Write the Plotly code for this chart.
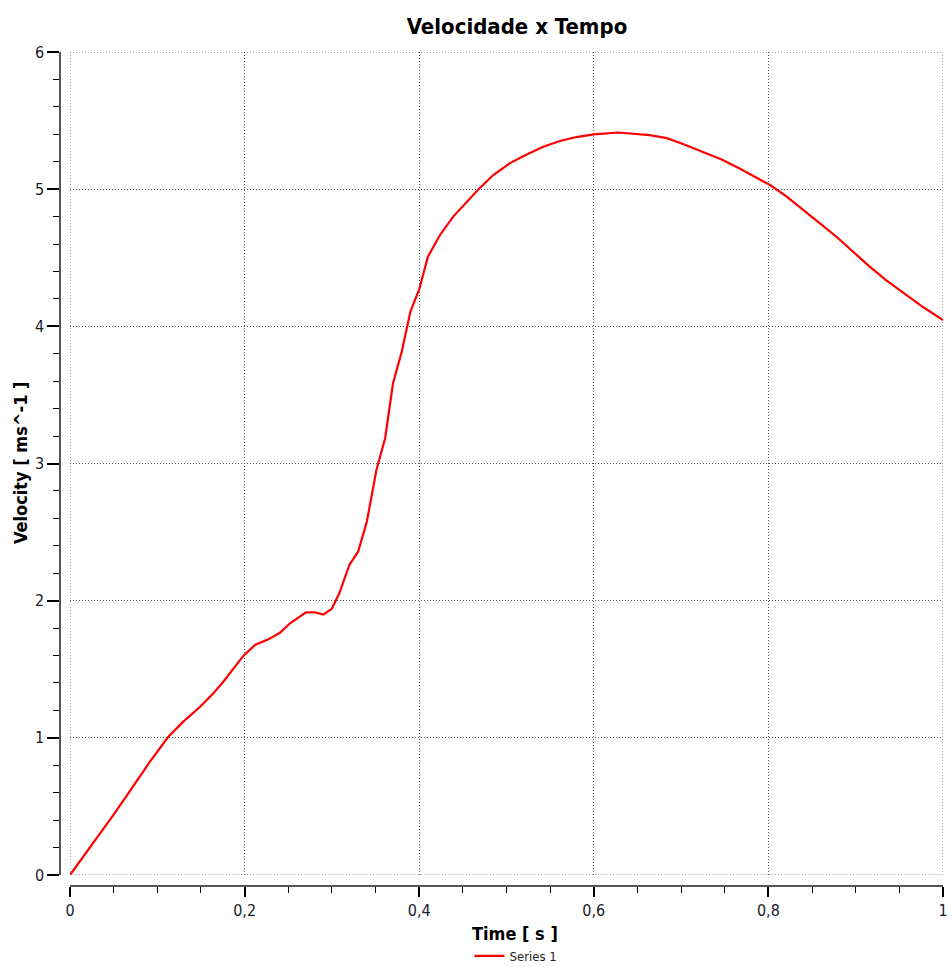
import plotly.graph_objects as go

time_s = [0, 0.0267, 0.0496, 0.0707, 0.0916, 0.1126, 0.1298, 0.149, 0.1642, 0.1756,
          0.1985, 0.2119, 0.2272, 0.2405, 0.252, 0.2703, 0.2806, 0.2901, 0.2997, 0.3085,
          0.32, 0.33, 0.34, 0.351, 0.361, 0.37, 0.38, 0.39, 0.40, 0.41,
          0.4238, 0.439, 0.4544, 0.468, 0.4849, 0.504, 0.5231, 0.542, 0.5613, 0.58,
          0.60, 0.628, 0.664, 0.6835, 0.7007, 0.7255, 0.7465, 0.767, 0.7847, 0.802,
          0.821, 0.84, 0.859, 0.878, 0.897, 0.916, 0.9355, 0.955, 0.9775, 1.0]
velocity = [0, 0.231, 0.437, 0.632, 0.826, 1.008, 1.118, 1.227, 1.325, 1.409,
            1.597, 1.677, 1.718, 1.766, 1.835, 1.915, 1.915, 1.898, 1.939, 2.054,
            2.26, 2.357, 2.575, 2.953, 3.184, 3.585, 3.815, 4.11, 4.27, 4.508,
            4.666, 4.80, 4.909, 5.0, 5.103, 5.19, 5.253, 5.31, 5.351, 5.38,
            5.40, 5.413, 5.394, 5.372, 5.333, 5.27, 5.216, 5.15, 5.091, 5.03,
            4.945, 4.85, 4.75, 4.653, 4.544, 4.435, 4.333, 4.24, 4.139, 4.046]

x_ticks = [0, 0.2, 0.4, 0.6, 0.8, 1]
y_ticks = [0, 1, 2, 3, 4, 5, 6]

FONT = "DejaVu Sans Condensed, DejaVu Sans, sans-serif"
GRID = "#555"
GRID_DASH = "1px,2px"

fig = go.Figure()
fig.add_trace(go.Scatter(x=time_s, y=velocity, mode="lines", name="Series 1",
                         line=dict(color="#ff0000", width=2.2)))

W, H = 952, 967
ml, mr, mt, mb = 60, 9, 52, 81
pw, ph = W - ml - mr, H - mt - mb

# edge grid lines (plotly omits grid lines at the range limits)
shapes = [
    dict(type="line", xref="x", yref="y", x0=0, x1=1, y0=y_ticks[-1], y1=y_ticks[-1],
         line=dict(color=GRID, width=1, dash=GRID_DASH), layer="below"),
    dict(type="line", xref="x", yref="y", x0=x_ticks[-1], x1=x_ticks[-1], y0=0, y1=6,
         line=dict(color=GRID, width=1, dash=GRID_DASH), layer="below"),
    dict(type="line", xref="x", yref="y", x0=0, x1=1, y0=0, y1=0,
         line=dict(color=GRID, width=1, dash=GRID_DASH), layer="below"),
    dict(type="line", xref="x", yref="y", x0=0, x1=0, y0=0, y1=6,
         line=dict(color=GRID, width=1, dash=GRID_DASH), layer="below"),
]

fig.update_layout(
    width=W, height=H,
    margin=dict(l=ml, r=mr, t=mt, b=mb, pad=0, autoexpand=False),
    paper_bgcolor="white", plot_bgcolor="white",
    separators=", ",
    font=dict(family=FONT, size=16, color="#1a1a2a"),
    title=dict(text="<b>Velocidade x Tempo</b>", x=517 / W, xref="container",
               xanchor="center", y=1 - 26 / H, yref="container", yanchor="middle",
               font=dict(family=FONT, size=22, color="black")),
    showlegend=True,
    legend=dict(orientation="h", x=(516 - ml) / pw, xanchor="center",
                y=-(956 - (H - mb)) / ph, yanchor="middle",
                font=dict(family=FONT, size=13, color="#222"),
                bgcolor="rgba(0,0,0,0)"),
    shapes=shapes,
    xaxis=dict(range=[0, 1], domain=[(70 - ml) / pw, 1], anchor="free", position=0,
               tickvals=x_ticks,
               ticks="outside", ticklen=10, tickwidth=1.5, tickcolor="black",
               showline=True, linecolor="#555", linewidth=1.5,
               showgrid=True, gridcolor=GRID, griddash=GRID_DASH, gridwidth=1,
               zeroline=False,
               minor=dict(dtick=0.05, ticks="outside", ticklen=6, tickcolor="black",
                          tickwidth=1.2, showgrid=False),
               tickfont=dict(family=FONT, size=16)),
    yaxis=dict(range=[0, 6], domain=[(H - mb - 875) / ph, 1], anchor="free", position=0,
               tickvals=y_ticks,
               ticks="outside", ticklen=12, tickwidth=1.5, tickcolor="black",
               showline=True, linecolor="#555", linewidth=1.5,
               showgrid=True, gridcolor=GRID, griddash=GRID_DASH, gridwidth=1,
               zeroline=False,
               minor=dict(dtick=0.2, ticks="outside", ticklen=6, tickcolor="black",
                          tickwidth=1.2, showgrid=False),
               tickfont=dict(family=FONT, size=16)),
    annotations=[
        dict(text="<b>Time [ s ]</b>", xref="paper", yref="paper",
             x=(515 - ml) / pw, y=-(933 - (H - mb)) / ph, xanchor="center", yanchor="middle",
             showarrow=False, font=dict(family=FONT, size=18, color="black")),
        dict(text="<b>Velocity [ ms^-1 ]</b>", xref="paper", yref="paper",
             x=(20 - ml) / pw, y=(H - mb - 463) / ph, xanchor="center", yanchor="middle",
             textangle=-90, showarrow=False, font=dict(family=FONT, size=18, color="black")),
    ],
)

fig.write_html("out.html")
